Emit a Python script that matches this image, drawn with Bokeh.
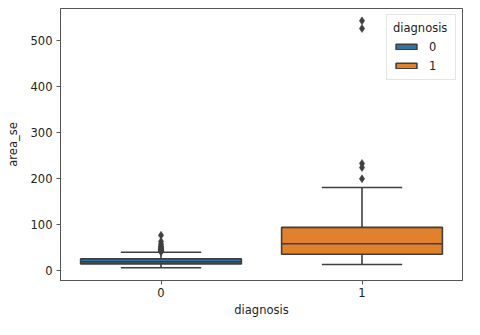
from bokeh.plotting import figure
from bokeh.models import FactorRange, Range1d, FixedTicker, ColumnDataSource
from bokeh.transform import dodge
from bokeh.embed import file_html
from bokeh.resources import INLINE

# ---- data ----
categories = ["0", "1"]
q1 = [15.2, 36.0]
medians = [19.6, 59.0]
q3 = [26.0, 94.5]
whisker_low = [6.8, 14.0]
whisker_high = [40.5, 181.0]
outliers_0 = [77.1, 64.0, 58.4, 54.2, 52.0, 50.0, 48.3, 47.1, 45.7, 44.7, 43.5, 42.4, 41.5]
outliers_1 = [542.2, 525.6, 233.0, 224.1, 199.7]
box_colors = ["#3274a1", "#e1812c"]
y_ticks = [0, 100, 200, 300, 400, 500]

GRAY = "#3f3f3f"
FONT = "DejaVu Sans"
FS = "11.5px"

p = figure(
    x_range=FactorRange(*categories, range_padding=0),
    y_range=Range1d(-20.8, 569),
    width=464, height=319,
    output_backend="svg", toolbar_location=None,
    min_border_left=60, min_border_right=2, min_border_top=8, min_border_bottom=36,
    background_fill_color="white", border_fill_color="white",
)

box_src = ColumnDataSource(dict(
    cat=categories, q1=q1, med=medians, q3=q3,
    lo=whisker_low, hi=whisker_high, color=box_colors,
))

# whiskers
p.segment(x0="cat", y0="q3", x1="cat", y1="hi", source=box_src, line_color=GRAY, line_width=1.6)
p.segment(x0="cat", y0="q1", x1="cat", y1="lo", source=box_src, line_color=GRAY, line_width=1.6)
# caps
p.segment(x0=dodge("cat", -0.2, range=p.x_range), y0="hi", x1=dodge("cat", 0.2, range=p.x_range), y1="hi",
          source=box_src, line_color=GRAY, line_width=1.6)
p.segment(x0=dodge("cat", -0.2, range=p.x_range), y0="lo", x1=dodge("cat", 0.2, range=p.x_range), y1="lo",
          source=box_src, line_color=GRAY, line_width=1.6)
# boxes
p.vbar(x="cat", top="q3", bottom="q1", width=0.8, source=box_src, fill_color="color",
       line_color=GRAY, line_width=1.6, legend_field="cat")
# medians
p.segment(x0=dodge("cat", -0.4, range=p.x_range), y0="med", x1=dodge("cat", 0.4, range=p.x_range), y1="med",
          source=box_src, line_color=GRAY, line_width=1.6)

# outliers
out_x = [categories[0]] * len(outliers_0) + [categories[1]] * len(outliers_1)
out_y = outliers_0 + outliers_1
p.scatter(x=out_x, y=out_y, marker="diamond", size=8, fill_color=GRAY, line_color=GRAY, line_width=0.5)

# axes
p.xgrid.visible = False
p.ygrid.visible = False
p.outline_line_color = "#555555"
p.outline_line_width = 1
p.yaxis.ticker = FixedTicker(ticks=y_ticks)
p.xaxis.axis_label = "diagnosis"
p.yaxis.axis_label = "area_se"
for ax in (p.xaxis[0], p.yaxis[0]):
    ax.axis_line_color = "#555555"
    ax.major_tick_line_color = "#555555"
    ax.major_tick_out = 4
    ax.major_tick_in = 0
    ax.minor_tick_line_color = None
    ax.major_label_text_font = FONT
    ax.major_label_text_font_size = FS
    ax.major_label_text_color = "#222222"
    ax.axis_label_text_font = FONT
    ax.axis_label_text_font_size = FS
    ax.axis_label_text_font_style = "normal"
    ax.axis_label_text_color = "#222222"
    ax.major_label_standoff = 4
    ax.axis_label_standoff = 5
p.yaxis[0].axis_label_standoff = 8
p.xaxis[0].major_label_standoff = 3
p.xaxis[0].axis_label_standoff = 3

# legend
lg = p.legend[0]
lg.title = "diagnosis"
lg.location = "top_right"
lg.margin = 6
lg.padding = 6
lg.spacing = 4
lg.title_standoff = 4
lg.glyph_width = 26
lg.glyph_height = 7
lg.label_height = 15
lg.label_standoff = 10
lg.label_text_font = FONT
lg.label_text_font_size = FS
lg.label_text_color = "#222222"
lg.title_text_font = FONT
lg.title_text_font_size = FS
lg.title_text_font_style = "normal"
lg.title_text_color = "#222222"
lg.border_line_color = "#cccccc"
lg.border_line_width = 1
lg.background_fill_alpha = 0.8

open("out.html", "w").write(file_html(p, INLINE))
